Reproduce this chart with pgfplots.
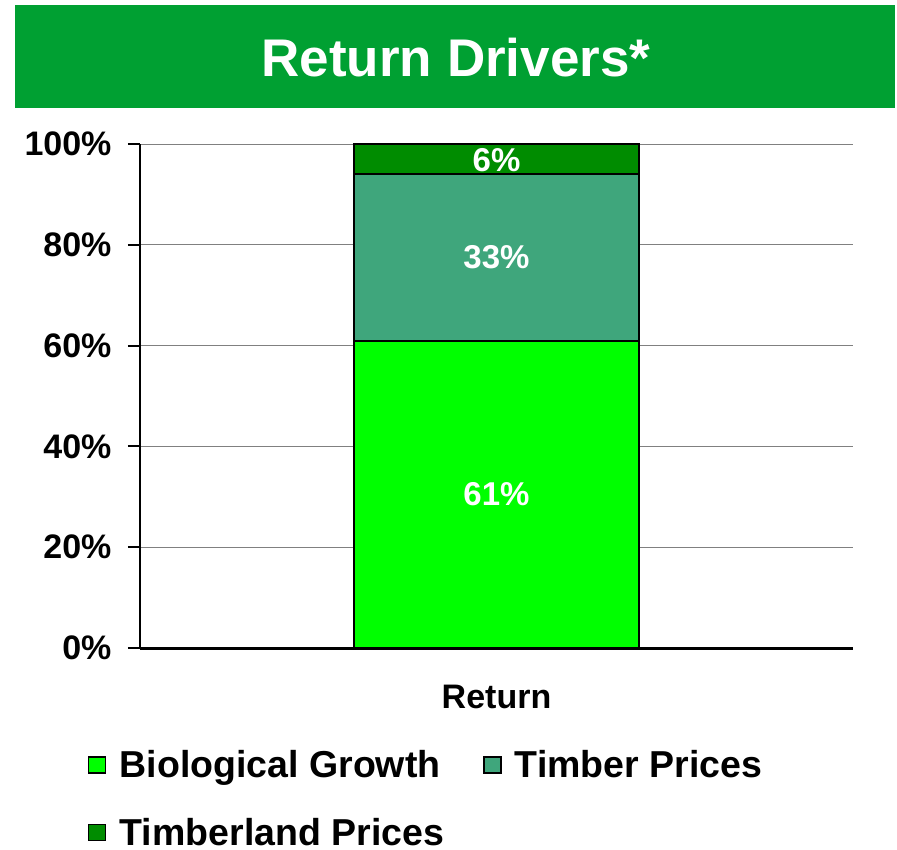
\documentclass[border=0pt]{standalone}
\usepackage{fontspec}
\setmainfont{Liberation Sans}
\usepackage{pgfplots}
\pgfplotsset{compat=1.18}
\definecolor{titlegreen}{RGB}{0,160,50}
\definecolor{biogreen}{RGB}{0,255,0}
\definecolor{timbergreen}{RGB}{63,166,124}
\definecolor{landgreen}{RGB}{0,140,0}
\begin{document}
\begin{tikzpicture}
\path[use as bounding box] (0pt,0pt) rectangle (897pt,-849pt);
\fill[titlegreen] (15pt,-5pt) rectangle (895pt,-108pt);
\node[text=white,font=\fontsize{53}{58}\selectfont\bfseries] at (456pt,-58pt) {Return Drivers*};
\begin{axis}[
  at={(140pt,-648pt)}, anchor=south west,
  scale only axis, width=713pt, height=504pt,
  ybar stacked, bar width=1,
  xmin=-1.25, xmax=1.25, ymin=0, ymax=100,
  axis x line=bottom, axis y line=left,
  axis line style={-, black, line width=2pt},
  x axis line style={line width=3pt},
  xtick={0}, xticklabels={Return},
  xtick style={draw=none},
  ytick={0,20,40,60,80,100},
  yticklabels={0\%,20\%,40\%,60\%,80\%,100\%},
  ytick style={black, line width=2pt},
  major tick length=12pt,
  tick align=outside,
  ymajorgrids,
  major grid style={gray, line width=1pt},
  ticklabel style={font=\fontsize{34}{37}\selectfont\bfseries},
  yticklabel style={xshift=-13pt},
  xticklabel style={yshift=-22pt},
  legend columns=2,
  legend cell align=left,
  legend style={at={(-0.0775,-0.195)}, anchor=north west, draw=none, fill=none,
    font=\fontsize{37.5}{41}\selectfont\bfseries,
    /tikz/every even column/.append style={column sep=37pt},
    row sep=35pt},
  legend image code/.code={\draw[#1, draw=black, line width=1.5pt] (0pt,-8pt) rectangle (17pt,8pt); \path (28pt,0pt);},
  clip=false,
]
\addplot[fill=biogreen, draw=black, line width=2pt] coordinates {(0,61)};
\addplot[fill=timbergreen, draw=black, line width=2pt] coordinates {(0,33)};
\addplot[fill=landgreen, draw=black, line width=2pt] coordinates {(0,6)};
\legend{Biological Growth, Timber Prices, Timberland Prices}
\coordinate (l1) at (axis cs:0,30.5);
\coordinate (l2) at (axis cs:0,77.5);
\coordinate (l3) at (axis cs:0,96.8);
\end{axis}
\node[text=white, font=\fontsize{33}{36}\selectfont\bfseries] at (l1) {61\%};
\node[text=white, font=\fontsize{33}{36}\selectfont\bfseries] at (l2) {33\%};
\node[text=white, font=\fontsize{33}{36}\selectfont\bfseries] at (l3) {6\%};
\end{tikzpicture}
\end{document}
